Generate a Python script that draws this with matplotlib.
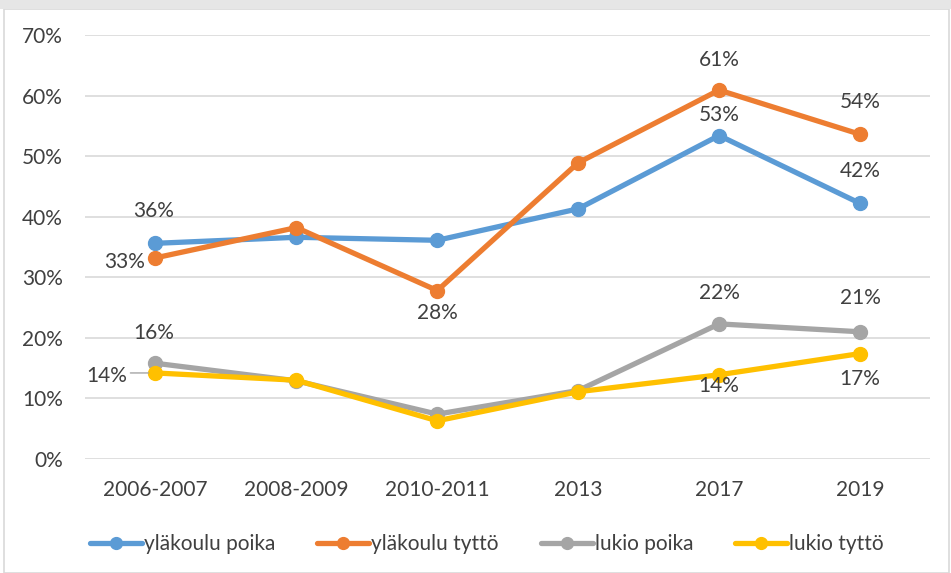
import numpy as np
import matplotlib.pyplot as plt
from matplotlib.patches import Rectangle

plt.rcParams['font.family'] = ['Lato', 'DejaVu Sans']

vuodet = ['2006-2007', '2008-2009', '2010-2011', '2013', '2017', '2019']
ylakoulu_poika = [35.6, 36.6, 36.1, 41.3, 53.4, 42.2]
ylakoulu_tytto = [33.2, 38.2, 27.8, 48.9, 60.9, 53.6]
lukio_poika = [15.8, 12.9, 7.4, 11.3, 22.3, 21.0]
lukio_tytto = [14.2, 13.0, 6.3, 11.1, 13.9, 17.4]
y_ticks = [0, 10, 20, 30, 40, 50, 60, 70]

sarjat = [
    ('yläkoulu poika', ylakoulu_poika, '#5B9BD5'),
    ('yläkoulu tyttö', ylakoulu_tytto, '#ED7D31'),
    ('lukio poika', lukio_poika, '#A5A5A5'),
    ('lukio tyttö', lukio_tytto, '#FFC000'),
]

# label positions in points: (series index, category index, dx, dy)
labels = [
    (0, 0, -1.5, 23), (0, 4, 0, 14.5), (0, 5, 0, 23.5),
    (1, 0, -22, -3), (1, 2, 0, -16), (1, 4, 0, 21.5), (1, 5, 0, 23),
    (2, 0, -1.5, 21.5), (2, 4, 0, 22), (2, 5, 0, 24.5),
    (3, 0, -35, -2), (3, 4, 0, -8), (3, 5, 0, -18),
]

txt = '#404040'
fig = plt.figure(figsize=(9.51, 5.73), dpi=100)
ax = fig.add_axes([0.0894, 0.199, 0.889, 0.740])

x = np.arange(len(vuodet))
for nimi, arvot, vari in sarjat:
    ax.plot(x, arvot, color=vari, lw=3.8, marker='o', ms=10, label=nimi,
            solid_capstyle='round', zorder=3)

for s, i, dx, dy in labels:
    v = sarjat[s][1][i]
    ax.annotate(f'{round(v):.0f}%', (x[i], v), xytext=(dx, dy), textcoords='offset points',
                ha='center', va='center', fontsize=15, color=txt)

# leader line for the 14% label on the left
ax.annotate('', (x[0] - 0.03, lukio_tytto[0]), xytext=(-17, 0), textcoords='offset points',
            arrowprops=dict(arrowstyle='-', color='#A5A5A5', lw=1))

ax.set_xlim(-0.5, 5.5)
ax.set_ylim(0, 70)
ax.set_yticks(y_ticks)
ax.set_yticklabels([f'{t}%' for t in y_ticks])
ax.set_xticks(x)
ax.set_xticklabels(vuodet)
ax.tick_params(length=0, labelsize=15, labelcolor=txt)
ax.tick_params(axis='y', pad=16)
ax.tick_params(axis='x', pad=15)
ax.grid(axis='y', color='#D9D9D9', lw=1.2)
ax.set_axisbelow(True)
for sp in ax.spines.values():
    sp.set_visible(False)

fig.legend(loc='center', bbox_to_anchor=(0.512, 0.05), ncol=4, frameon=False,
           fontsize=15, labelcolor=txt, handlelength=2.5, handletextpad=0.1,
           columnspacing=2.0, markerscale=0.85)

# chart border and top shadow
fig.patches.append(Rectangle((0.004, 0.0), 0.994, 0.985, transform=fig.transFigure,
                             fill=False, ec='#D9D9D9', lw=1.2))
fig.patches.append(Rectangle((0, 0.985), 1, 0.015, transform=fig.transFigure,
                             fc='#E6E6E6', ec='none'))

fig.savefig('out.png', dpi=100)
